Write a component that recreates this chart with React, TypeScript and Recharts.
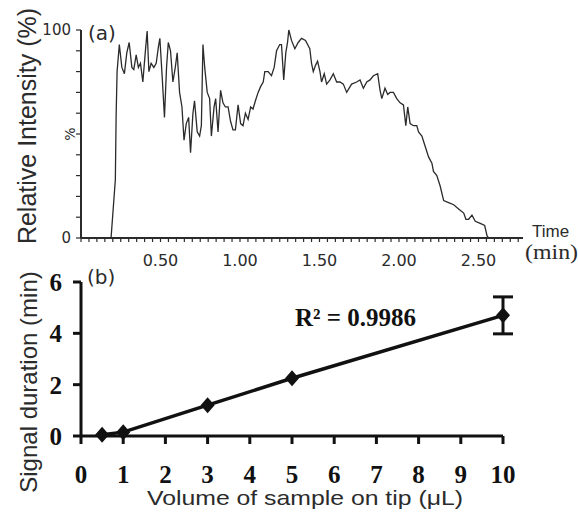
import React from 'react'
import { LineChart, Line, XAxis, YAxis, ErrorBar } from 'recharts'

// (a) chromatogram trace: time in min, relative intensity in %
const timeMin = [
  0, 0.189, 0.216, 0.221, 0.227, 0.241, 0.257, 0.273, 0.288, 0.303,
  0.32, 0.332, 0.347, 0.361, 0.374, 0.389, 0.404, 0.416, 0.427, 0.441,
  0.458, 0.473, 0.487, 0.496, 0.511, 0.525, 0.538, 0.549, 0.563, 0.578,
  0.593, 0.605, 0.62, 0.635, 0.648, 0.662, 0.677, 0.689, 0.704, 0.714,
  0.731, 0.746, 0.757, 0.767, 0.778, 0.794, 0.809, 0.82, 0.837, 0.847,
  0.862, 0.878, 0.893, 0.908, 0.925, 0.941, 0.956, 0.971, 0.988, 1.004,
  1.019, 1.034, 1.051, 1.067, 1.082, 1.097, 1.114, 1.131, 1.146, 1.156,
  1.177, 1.198, 1.215, 1.23, 1.25, 1.261, 1.275, 1.288, 1.299, 1.307,
  1.324, 1.345, 1.366, 1.387, 1.412, 1.439, 1.45, 1.461, 1.475, 1.488,
  1.503, 1.513, 1.53, 1.545, 1.566, 1.587, 1.608, 1.629, 1.65, 1.671,
  1.702, 1.734, 1.755, 1.776, 1.797, 1.818, 1.839, 1.866, 1.881, 1.892,
  1.912, 1.929, 1.944, 1.965, 1.986, 2.007, 2.028, 2.043, 2.055, 2.07,
  2.091, 2.112, 2.123, 2.144, 2.165, 2.186, 2.207, 2.217, 2.238, 2.259,
  2.281, 2.312, 2.344, 2.375, 2.407, 2.421, 2.438, 2.459, 2.48, 2.511,
  2.539, 2.554, 2.564, 2.78,
]
const intensity = [
  0, 0, 28, 59, 80, 93, 82, 79, 89, 94,
  82, 81, 88, 82, 84, 75, 89, 99.5, 80, 84,
  82, 84, 92, 96, 77, 58, 82, 94, 90, 75,
  82, 89, 70, 63, 47, 55, 58, 41, 60, 66,
  51, 49, 54, 93, 82, 70, 67, 49, 63, 67,
  51, 71, 65, 63, 63, 56, 52, 52, 64, 55,
  54, 60, 57, 63, 62, 66, 70, 73, 75, 80,
  80, 78, 82, 90, 93, 93, 76, 89, 94, 100,
  95, 91, 94, 96, 95, 91, 84, 80, 83, 85,
  80, 75, 79, 74, 76, 79, 75, 75, 74, 70,
  74, 75, 76, 72, 75, 76, 78, 79, 71, 67,
  72, 69, 70, 70, 67, 65, 64, 54, 63, 55,
  54, 54, 51, 49, 44, 39, 36, 32, 30, 25,
  18, 17, 16, 14, 12, 9, 9, 11, 8, 7,
  6, 1, 0, 0,
]
const timeLabels = [0.5, 1, 1.5, 2, 2.5]
const intensityTicks = [0, 10, 20, 30, 40, 50, 60, 70, 80, 90, 100]

// (b) signal duration vs sample volume
const volume = [0.5, 1, 3, 5, 10]
const duration = [0.05, 0.15, 1.2, 2.25, 4.7]
const durationErr = [null, null, null, null, 0.72]
const volumeTicks = [0, 1, 2, 3, 4, 5, 6, 7, 8, 9, 10]
const durationTicks = [0, 2, 4, 6]

const traceData = timeMin.map((t, i) => ({ t, v: intensity[i] }))
const durationData = volume.map((x, i) => ({ x, y: duration[i], err: durationErr[i] }))
const timeTicks = Array.from({ length: 56 }, (_, i) => (i * 5) / 100)

const grey = '#2b2b2b'
const black = '#111'
const sans = '"Liberation Sans", Arial, sans-serif'
const wide = '"DejaVu Sans", sans-serif'
const serif = '"Liberation Serif", "Times New Roman", serif'

function TimeTick({ x, y, payload }: any) {
  const v = payload.value
  if (!timeLabels.some((l) => Math.abs(l - v) < 1e-6)) return <g />
  return (
    <text x={x} y={y + 22} textAnchor="middle" fontFamily={wide} fontSize={16} fill={grey}>
      {v.toFixed(2)}
    </text>
  )
}

function IntensityTick({ x, y, payload }: any) {
  const v = payload.value
  if (v === 50) {
    return (
      <text x={x - 4} y={y} dy="0.35em" textAnchor="middle" transform={`rotate(-90 ${x - 4} ${y})`}
        fontFamily={wide} fontSize={14} fill={grey}>%</text>
    )
  }
  if (v !== 0 && v !== 100) return <g />
  return (
    <text x={x - 3} y={y} dy="0.36em" textAnchor="end" fontFamily={wide} fontSize={15} fill={grey}>
      {v}
    </text>
  )
}

function BoldTickX({ x, y, payload }: any) {
  return (
    <text x={x} y={y + 37} textAnchor="middle" fontFamily={serif} fontWeight="bold" fontSize={25} fill={black}>
      {payload.value}
    </text>
  )
}

function BoldTickY({ x, y, payload }: any) {
  return (
    <text x={x - 9} y={y + 9} textAnchor="end" fontFamily={serif} fontWeight="bold" fontSize={25} fill={black}>
      {payload.value}
    </text>
  )
}

function Diamond({ cx, cy }: any) {
  if (cx == null || cy == null) return null
  return <path d={`M${cx},${cy - 8}L${cx + 7},${cy}L${cx},${cy + 8}L${cx - 7},${cy}Z`} fill={black} />
}

export default function App() {
  return (
    <div style={{ position: 'absolute', top: 0, left: 0, width: 578, height: 512, background: '#fff' }}>
      <div style={{ position: 'absolute', top: 0, left: 0 }}>
        <LineChart id="panel-a" width={578} height={280} data={traceData} margin={{ top: 30, right: 55, bottom: 0, left: 0 }}>
          <XAxis
            dataKey="t"
            type="number"
            domain={[0, 2.78]}
            ticks={timeTicks}
            interval={0}
            tickSize={4}
            tickMargin={2}
            height={42}
            stroke={grey}
            axisLine={{ stroke: grey, strokeWidth: 2 }}
            tickLine={{ stroke: grey, strokeWidth: 1.2 }}
            tick={<TimeTick />}
          />
          <YAxis
            type="number"
            domain={[0, 100]}
            ticks={intensityTicks}
            interval={0}
            tickSize={5}
            tickMargin={2}
            width={81}
            stroke={grey}
            axisLine={{ stroke: grey, strokeWidth: 2 }}
            tickLine={{ stroke: grey, strokeWidth: 1.2 }}
            tick={<IntensityTick />}
          />
          <Line
            dataKey="v"
            type="linear"
            stroke={grey}
            strokeWidth={1.3}
            dot={false}
            isAnimationActive={false}
          />
        </LineChart>
      </div>
      <div style={{ position: 'absolute', top: 260, left: 0 }}>
        <LineChart id="panel-b" width={578} height={252} data={durationData} margin={{ top: 22, right: 75, bottom: 0, left: 0 }}>
          <XAxis
            dataKey="x"
            type="number"
            domain={[0, 10]}
            ticks={volumeTicks}
            interval={0}
            tickSize={8}
            tickMargin={2}
            height={76}
            stroke={black}
            axisLine={{ stroke: black, strokeWidth: 3 }}
            tickLine={{ stroke: black, strokeWidth: 3 }}
            tick={<BoldTickX />}
          />
          <YAxis
            type="number"
            domain={[0, 6]}
            ticks={durationTicks}
            interval={0}
            tickSize={8}
            tickMargin={2}
            width={81}
            stroke={black}
            axisLine={{ stroke: black, strokeWidth: 3 }}
            tickLine={{ stroke: black, strokeWidth: 3 }}
            tick={<BoldTickY />}
          />
          <Line
            dataKey="y"
            type="linear"
            stroke={black}
            strokeWidth={3.5}
            dot={(p: any) => <Diamond key={p.index} {...p} />}
            isAnimationActive={false}
          >
            <ErrorBar dataKey="err" direction="y" width={10} stroke={black} strokeWidth={3} />
          </Line>
        </LineChart>
      </div>
      <svg width={578} height={512} style={{ position: 'absolute', top: 0, left: 0, pointerEvents: 'none' }}>
        <text x={36} y={126} textAnchor="middle" transform="rotate(-90 36 126)" fontFamily={sans} fontSize={25}
          fill={grey}>Relative Intensity (%)</text>
        <text x={88} y={40} fontFamily={wide} fontSize={20} fill={grey}>(a)</text>
        <text x={532} y={237} fontFamily={sans} fontSize={17} fill={grey}>Time</text>
        <text x={525} y={259} fontFamily={serif} fontSize={21} textLength={53} lengthAdjust="spacingAndGlyphs"
          fill={grey}>(min)</text>
        <text x={37} y={382} textAnchor="middle" transform="rotate(-90 37 382)" fontFamily={sans} fontSize={24}
          fill={grey}>Signal duration (min)</text>
        <text x={87} y={284} fontFamily={wide} fontSize={20} fill={grey}>(b)</text>
        <text x={295} y={326} fontFamily={serif} fontWeight="bold" fontSize={25} fill={black}>R² = 0.9986</text>
        <text x={305} y={505} textAnchor="middle" fontFamily={sans} fontSize={21} textLength={316}
          lengthAdjust="spacingAndGlyphs" fill={grey}>Volume of sample on tip (μL)</text>
      </svg>
    </div>
  )
}
